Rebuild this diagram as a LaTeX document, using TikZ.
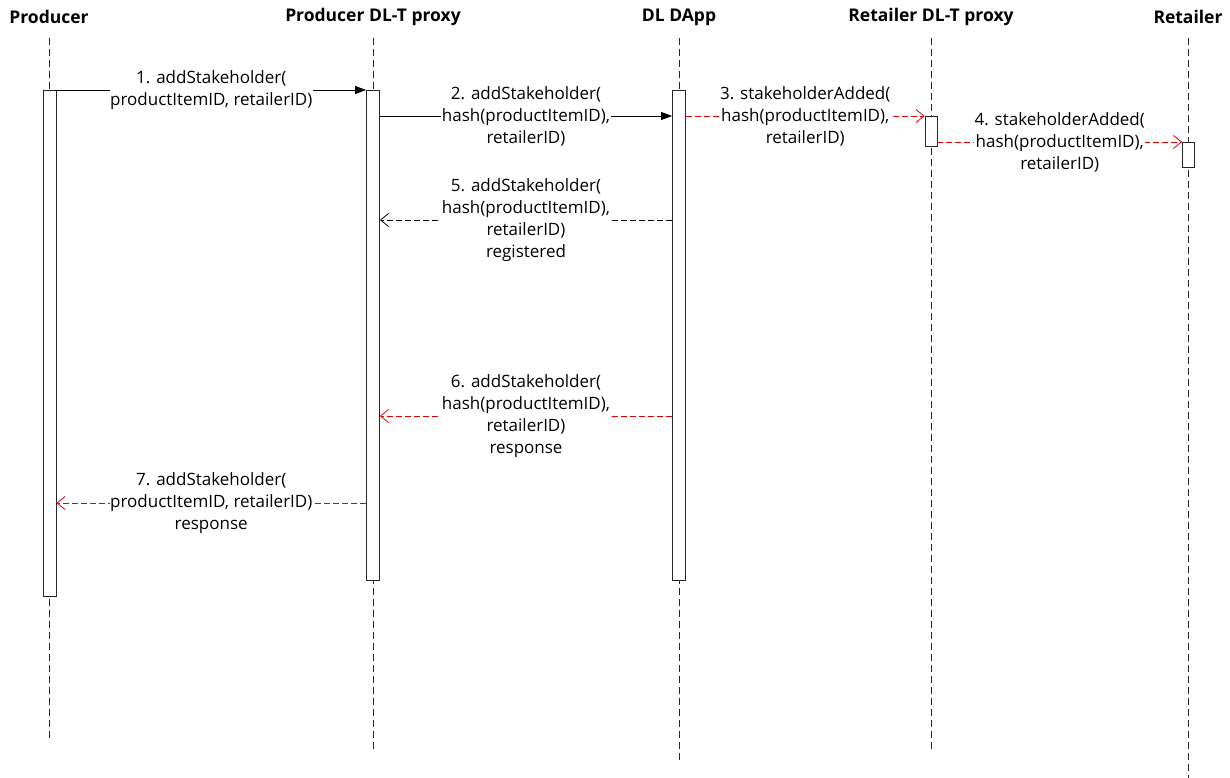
\documentclass[tikz,border=0pt]{standalone}
\usepackage{fontspec}
\setmainfont{Open Sans}
\usetikzlibrary{arrows.meta}
\begin{document}
\begin{tikzpicture}[x=1pt,y=-1pt,
  hdr/.style={font=\fontsize{17.5}{20}\selectfont\bfseries, inner sep=0pt},
  lifeline/.style={draw=black!85, line width=0.8pt, dash pattern=on 7pt off 4pt},
  act/.style={draw=black!85, fill=white, line width=0.8pt, minimum width=13pt, inner sep=0pt, anchor=north},
  sync/.style={draw=black, line width=0.8pt, -{Triangle[length=11pt,width=8pt]}},
  reply/.style={draw=black, line width=0.8pt, dash pattern=on 6pt off 3pt, -{Straight Barb[length=8pt,width=13pt,line width=0.8pt]}},
  async/.style={draw=red!90!black, line width=0.8pt, dash pattern=on 6pt off 3pt, -{Straight Barb[length=8pt,width=13pt,line width=0.8pt]}},
  lbl/.style={fill=white, align=center, inner sep=0.5pt, font=\fontsize{17}{22}\selectfont}]
\useasboundingbox (0,0) rectangle (1230,778);
% headers
\node[hdr] (hP) at (49,17) {Producer};
\node[hdr] (hPP) at (373,17) {Producer DL-T proxy};
\node[hdr] (hD) at (679,17) {DL DApp};
\node[hdr] (hRP) at (931,17) {Retailer DL-T proxy};
\node[hdr] (hR) at (1188,17) {Retailer};
% lifeline ends
\coordinate (tP) at (49,38);   \coordinate (eP) at (49,742);
\coordinate (tPP) at (373,38); \coordinate (ePP) at (373,752);
\coordinate (tD) at (679,38);  \coordinate (eD) at (679,760);
\coordinate (tRP) at (931,38); \coordinate (eRP) at (931,752);
\coordinate (tR) at (1188,38); \coordinate (eR) at (1188,778);
\draw[lifeline] (tP) -- (eP);
\draw[lifeline] (tPP) -- (ePP);
\draw[lifeline] (tD) -- (eD);
\draw[lifeline] (tRP) -- (eRP);
\draw[lifeline] (tR) -- (eR);
% activations
\node[act, minimum height=506pt] (aP) at (49.5,90) {};
\node[act, minimum height=490pt] (aPP) at (373,90) {};
\node[act, minimum height=490pt] (aD) at (679,90) {};
\node[act, minimum width=12pt, minimum height=30pt] (aRP) at (931,116) {};
\node[act, minimum width=12pt, minimum height=25pt] (aR) at (1188.5,142) {};
% messages
\draw[sync] (aP.east |- 0,90) -- node[lbl] {1. addStakeholder(\\productItemID, retailerID)} (aPP.west |- 0,90);
\draw[sync] (aPP.east |- 0,116) -- node[lbl] {2. addStakeholder(\\hash(productItemID),\\retailerID)} (aD.west |- 0,116);
\draw[async] (aD.east |- 0,116) -- node[lbl] {3. stakeholderAdded(\\hash(productItemID),\\retailerID)} (aRP.west |- 0,116);
\draw[async] (aRP.east |- 0,142) -- node[lbl] {4. stakeholderAdded(\\hash(productItemID),\\retailerID)} (aR.west |- 0,142);
\draw[reply] (aD.west |- 0,220) -- node[lbl] {5. addStakeholder(\\hash(productItemID),\\retailerID)\\registered} (aPP.east |- 0,220);
\draw[async] (aD.west |- 0,416) -- node[lbl] {6. addStakeholder(\\hash(productItemID),\\retailerID)\\response} (aPP.east |- 0,416);
\draw[async] (aPP.west |- 0,503) -- node[lbl, yshift=-0.5pt] {7. addStakeholder(\\productItemID, retailerID)\\response} (aP.east |- 0,503);
\end{tikzpicture}
\end{document}
